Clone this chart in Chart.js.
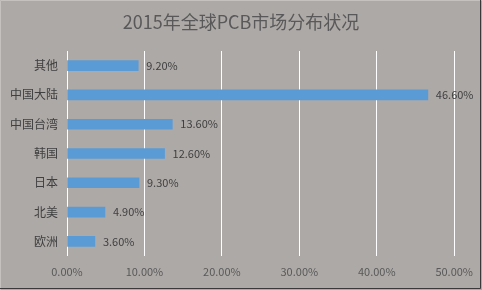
<!DOCTYPE html>
<html><head><meta charset="utf-8">
<script src="https://cdn.jsdelivr.net/npm/chart.js@4/dist/chart.umd.min.js"></script>
<style>html,body{margin:0;padding:0;background:#ADA9A7;}#wrap{width:482px;height:290px;}</style>
</head><body><div id="wrap"><canvas id="c" width="482" height="290"></canvas></div>
<script>
const titleText = "2015年全球PCB市场分布状况";
const categories = ["其他","中国大陆","中国台湾","韩国","日本","北美","欧洲"];
const shares = [9.2, 46.6, 13.6, 12.6, 9.3, 4.9, 3.6];
const xTicks = [0, 10, 20, 30, 40, 50];

const FONT = "'Noto Sans CJK SC', 'Microsoft YaHei', sans-serif";

const bgPlugin = {
  id: 'bg',
  beforeDraw(chart) {
    const ctx = chart.ctx;
    ctx.save();
    ctx.fillStyle = '#ADA9A7';
    ctx.fillRect(0, 0, chart.width, chart.height);
    ctx.fillStyle = '#595959';
    ctx.font = '18px ' + FONT;
    ctx.textAlign = 'center';
    ctx.textBaseline = 'middle';
    ctx.fillText(titleText, chart.width / 2, 22);
    ctx.restore();
  },
  afterDraw(chart) {
    const ctx = chart.ctx;
    ctx.save();
    ctx.strokeStyle = '#c4c1bf';
    ctx.lineWidth = 1;
    ctx.beginPath(); ctx.moveTo(0.5, chart.height); ctx.lineTo(0.5, 0.5); ctx.lineTo(chart.width, 0.5); ctx.stroke();
    ctx.strokeStyle = '#3a3a3a';
    ctx.beginPath(); ctx.moveTo(0, chart.height - 1.5); ctx.lineTo(chart.width - 1.5, chart.height - 1.5); ctx.lineTo(chart.width - 1.5, 0); ctx.stroke();
    // data labels
    const meta = chart.getDatasetMeta(0);
    ctx.fillStyle = '#404040';
    ctx.font = '11px ' + FONT;
    ctx.textAlign = 'left';
    ctx.textBaseline = 'middle';
    meta.data.forEach((bar, i) => {
      ctx.fillText(shares[i].toFixed(2) + '%', bar.x + 8, bar.y);
    });
    ctx.restore();
  }
};

new Chart(document.getElementById('c'), {
  type: 'bar',
  data: {
    labels: categories,
    datasets: [{
      data: shares,
      backgroundColor: '#5B9BD5',
      barThickness: 10
    }]
  },
  options: {
    indexAxis: 'y',
    responsive: false,
    animation: false,
    layout: { padding: { top: 51, right: 25, bottom: 0, left: 0 } },
    plugins: { legend: { display: false }, tooltip: { enabled: false } },
    scales: {
      x: {
        min: 0, max: 50,
        afterBuildTicks(scale) { scale.ticks = xTicks.map(v => ({ value: v })); },
        afterFit(scale) { scale.height = 34; },
        grid: { color: '#ffffff', lineWidth: 1, drawTicks: false },
        border: { display: false },
        ticks: {
          padding: 9,
          color: '#595959',
          font: { family: FONT, size: 11 },
          callback: v => Number(v).toFixed(2) + '%'
        }
      },
      y: {
        afterFit(scale) { scale.width = 67; },
        grid: { display: false, drawTicks: false },
        border: { display: false },
        ticks: {
          padding: 9,
          color: '#404040',
          font: { family: FONT, size: 12 }
        }
      }
    }
  },
  plugins: [bgPlugin]
});
</script>
</body></html>
